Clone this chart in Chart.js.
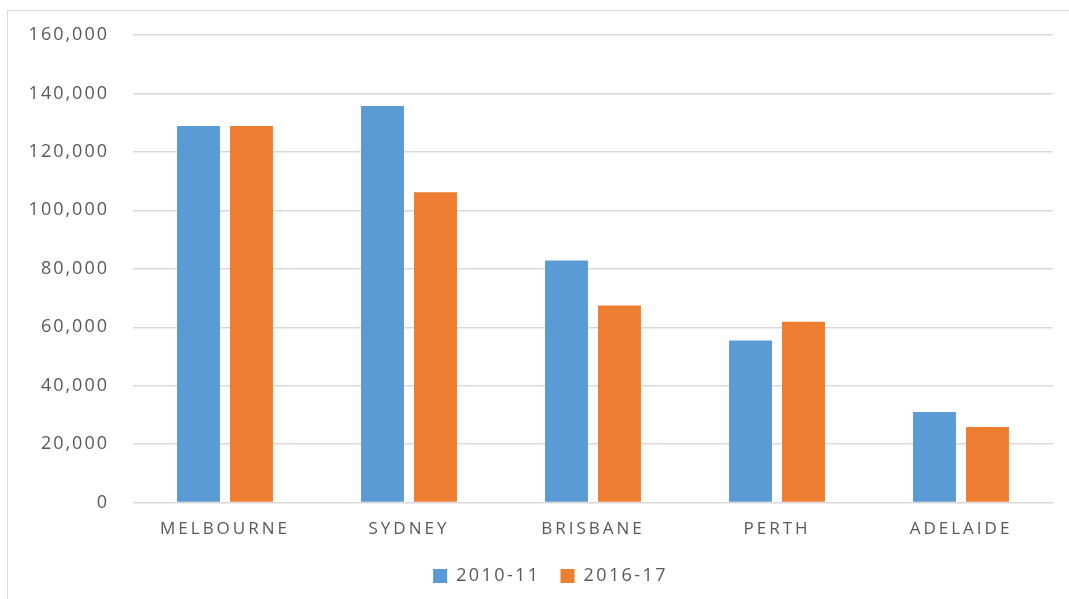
<!DOCTYPE html>
<html>
<head>
<meta charset="utf-8">
<script src="https://cdn.jsdelivr.net/npm/chart.js@4"></script>
<style>
  body { margin: 0; background: #fff; overflow: hidden; }
  #frame { position: absolute; left: 7px; top: 10px; width: 1080px; height: 600px; border-top: 1px solid #d9d9d9; border-left: 1px solid #d9d9d9; }
  canvas { display: block; }
</style>
</head>
<body>
<div id="frame"><canvas id="cityChart" width="1055" height="588"></canvas></div>
<script>
// dados do gráfico
const cities = ['MELBOURNE', 'SYDNEY', 'BRISBANE', 'PERTH', 'ADELAIDE'];
const values201011 = [128900, 135700, 82800, 55500, 31000];
const values201617 = [128900, 106200, 67400, 61900, 25900];
const yTicks = [0, 20000, 40000, 60000, 80000, 100000, 120000, 140000, 160000];

const textColor = '#595959';
const gridColor = '#d9d9d9';

// espaçamento entre letras (o canvas não herda do CSS)
const spacingPlugin = {
  id: 'spacing',
  beforeUpdate(chart) { chart.ctx.letterSpacing = '2.4px'; },
  beforeDraw(chart) { chart.ctx.letterSpacing = '2.4px'; },
  afterLayout(chart) {
    // legenda um pouco à direita, como no original
    chart.legend.left += 20;
    chart.legend.right += 20;
    const x = chart.scales.x;
    if (x._wrapped) return;
    const orig = x.drawLabels;
    x.drawLabels = function (area) {
      chart.ctx.save();
      chart.ctx.letterSpacing = '3px';
      orig.call(this, area);
      chart.ctx.restore();
    };
    const y = chart.scales.y;
    const origY = y.drawLabels;
    y.drawLabels = function (area) {
      chart.ctx.save();
      chart.ctx.letterSpacing = '2px';
      origY.call(this, area);
      chart.ctx.restore();
    };
    x._wrapped = true;
  }
};

const ctx = document.getElementById('cityChart').getContext('2d');
const cityChart = new Chart(ctx, {
  type: 'bar',
  data: {
    labels: cities,
    datasets: [
      { label: '2010-11', data: values201011, backgroundColor: '#5B9BD5' },
      { label: '2016-17', data: values201617, backgroundColor: '#ED7D31' }
    ]
  },
  options: {
    responsive: false,
    animation: false,
    categoryPercentage: 0.576,
    barPercentage: 0.81,
    layout: { padding: { top: 24, right: 10, left: 0, bottom: 4 } },
    plugins: {
      tooltip: { enabled: false },
      legend: {
        position: 'bottom',
        labels: {
          color: textColor,
          font: { family: 'Open Sans', size: 18 },
          boxWidth: 14,
          boxHeight: 14,
          padding: 20
        }
      }
    },
    scales: {
      x: {
        grid: { display: false },
        border: { display: false },
        ticks: {
          color: textColor,
          font: { family: 'Open Sans', size: 17 },
          padding: 8
        }
      },
      y: {
        min: 0,
        max: 160000,
        afterFit(scale) { scale.width = 125; },
        afterBuildTicks(scale) { scale.ticks = yTicks.map(v => ({ value: v })); },
        // marcas invisíveis só para afastar os rótulos do eixo
        grid: { color: gridColor, lineWidth: 1.5, drawTicks: true, tickLength: 24, tickColor: 'rgba(0,0,0,0)' },
        border: { display: false },
        ticks: {
          color: textColor,
          font: { family: 'Open Sans', size: 18 },
          padding: 0,
          callback: v => v.toLocaleString('en-US')
        }
      }
    }
  },
  plugins: [spacingPlugin]
});
</script>
</body>
</html>
